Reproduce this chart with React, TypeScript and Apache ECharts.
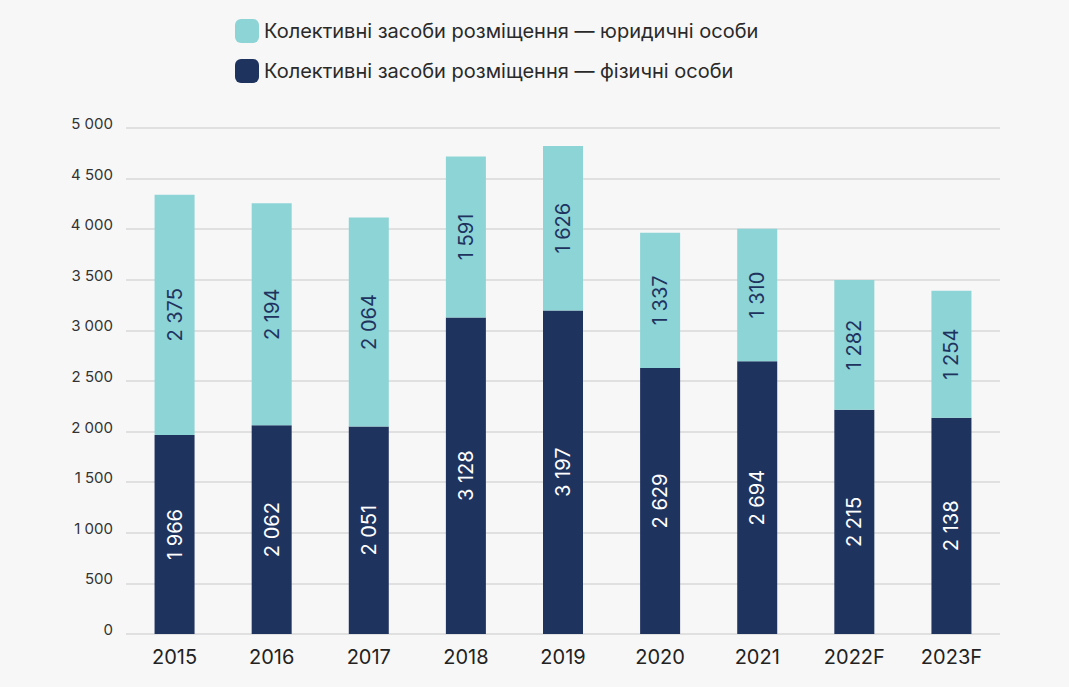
import React, { useEffect, useRef } from "react";
import * as echarts from "echarts";

const categories = ["2015", "2016", "2017", "2018", "2019", "2020", "2021", "2022F", "2023F"];
const legalEntities = [2375, 2194, 2064, 1591, 1626, 1337, 1310, 1282, 1254];
const individuals = [1966, 2062, 2051, 3128, 3197, 2629, 2694, 2215, 2138];
const seriesNames = [
  "Колективні засоби розміщення — юридичні особи",
  "Колективні засоби розміщення — фізичні особи",
];

const fmt = (v: number) => {
  const s = String(Math.round(v));
  return s.replace(/\B(?=(\d{3})+(?!\d))/g, " ");
};

export default function App() {
  const ref = useRef<HTMLDivElement>(null);
  useEffect(() => {
    if (!ref.current) return;
    const chart = echarts.init(ref.current, undefined, { renderer: "svg" });
    chart.setOption({
      animation: false,
      backgroundColor: "#f7f7f7",
      textStyle: { fontFamily: "Inter" },
      legend: {
        orient: "vertical",
        left: 230,
        top: 14,
        itemWidth: 24,
        itemHeight: 24,
        itemGap: 16,
        icon: "roundRect",
        textStyle: { fontSize: 20, color: "#2a2a2a", fontFamily: "Inter" },
        data: [seriesNames[0], seriesNames[1]],
      },
      grid: { left: 126, right: 69, top: 128, bottom: 53 },
      xAxis: {
        type: "category",
        data: categories,
        axisLine: { show: false },
        axisTick: { show: false },
        axisLabel: { fontSize: 20, color: "#222", margin: 13, fontFamily: "Inter" },
      },
      yAxis: {
        type: "value",
        min: 0,
        max: 5000,
        interval: 500,
        axisLine: { show: false },
        axisTick: { show: false },
        splitLine: { lineStyle: { color: "#d9d9d9", width: 1.5 } },
        axisLabel: {
          fontSize: 15,
          color: "#333",
          margin: 13,
          fontFamily: "Inter",
          verticalAlign: "bottom",
          lineHeight: 9,
          formatter: (v: number) => fmt(v),
        },
      },
      series: [
        {
          name: seriesNames[1],
          type: "bar",
          stack: "total",
          barWidth: 40,
          data: individuals,
          itemStyle: { color: "#1f335f" },
          label: {
            show: true,
            position: "inside",
            rotate: 90,
            fontSize: 20,
            color: "#ffffff",
            fontFamily: "Inter",
            formatter: (p: any) => fmt(p.value),
          },
        },
        {
          name: seriesNames[0],
          type: "bar",
          stack: "total",
          barWidth: 40,
          data: legalEntities,
          itemStyle: { color: "#8dd4d6" },
          label: {
            show: true,
            position: "inside",
            rotate: 90,
            fontSize: 20,
            color: "#1f335f",
            fontFamily: "Inter",
            formatter: (p: any) => fmt(p.value),
          },
        },
      ],
    });
    return () => chart.dispose();
  }, []);
  return (
    <div
      ref={ref}
      style={{ position: "fixed", left: 0, top: 0, width: 1069, height: 687 }}
    />
  );
}
